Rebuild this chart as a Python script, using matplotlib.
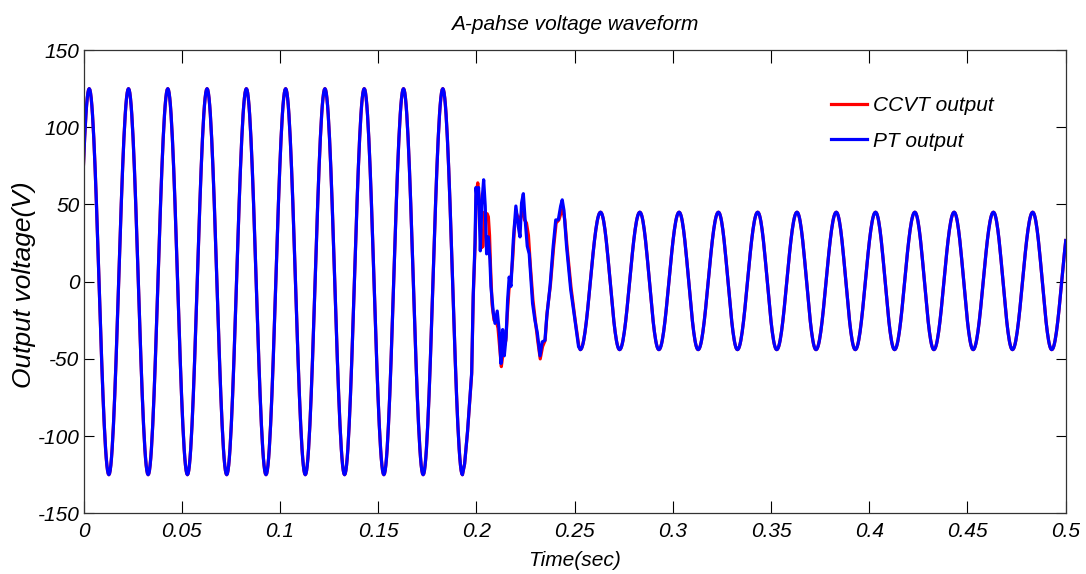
import numpy as np
import matplotlib
matplotlib.use("Agg")
import matplotlib.pyplot as plt

# --- Data ---
# Steady-state extrema before the fault (time in s, voltage in V).
# The first trough sits just left of t=0 so the trace enters the plot on a rising slope.
pre_ext_t = [-0.0071, 0.0029, 0.0129, 0.0229, 0.0329, 0.0429, 0.0529, 0.0629, 0.0729,
             0.0829, 0.0929, 0.1029, 0.1129, 0.1229, 0.1329, 0.1429, 0.1529, 0.1629,
             0.1729, 0.1829, 0.1929]
pre_ext_v = [-125, 125, -125, 125, -125, 125, -125, 125, -125, 125, -125,
             125, -125, 125, -125, 125, -125, 125, -125, 125, -125]

# Transient just after the fault, PT output (blue)
pt_trans_t = [0.1940, 0.1955, 0.1967, 0.1976, 0.1984, 0.1993, 0.1998, 0.2005, 0.2011,
              0.2020, 0.2028, 0.2037, 0.2045, 0.2052, 0.2061, 0.2069, 0.2074, 0.2086,
              0.2095, 0.2106, 0.2117, 0.2125, 0.2134, 0.2142, 0.2151, 0.2159, 0.2167,
              0.2176, 0.2188, 0.2201, 0.2213, 0.2222, 0.2230, 0.2239, 0.2247, 0.2259,
              0.2269, 0.2286, 0.2298, 0.2310, 0.2324, 0.2335, 0.2349, 0.2358, 0.2375,
              0.2391, 0.2404, 0.2417, 0.2429, 0.2437, 0.2446, 0.2459, 0.2480, 0.2502,
              0.2520]
pt_trans_v = [-118, -97, -75, -59, -8, 25, 61, 51, 61,
              20, 51, 66, 49, 18, 29, 14, -3, -20,
              -27, -19, -33, -53, -31, -48, -36, -12, 3,
              -3, 27, 49, 36, 29, 51, 57, 42, 23,
              18, -14, -25, -33, -48, -39, -38, -23, -3,
              23, 40, 40, 49, 53, 46, 23, -5, -25,
              -42]

# Transient just after the fault, CCVT output (red)
ccvt_trans_t = [0.1940, 0.1955, 0.1967, 0.1976, 0.1984, 0.1993, 0.1999, 0.2007, 0.2013,
                0.2020, 0.2027, 0.2034, 0.2040, 0.2047, 0.2055, 0.2061, 0.2067, 0.2072,
                0.2080, 0.2090, 0.2100, 0.2110, 0.2120, 0.2127, 0.2134, 0.2142, 0.2150,
                0.2158, 0.2166, 0.2175, 0.2185, 0.2195, 0.2205, 0.2215, 0.2225, 0.2235,
                0.2245, 0.2255, 0.2265, 0.2275, 0.2288, 0.2300, 0.2312, 0.2325, 0.2337,
                0.2350, 0.2360, 0.2377, 0.2393, 0.2406, 0.2420, 0.2432, 0.2440, 0.2450,
                0.2462, 0.2482, 0.2504, 0.2522]
ccvt_trans_v = [-118, -97, -76, -60, -10, 22, 56, 64, 56,
                35, 22, 23, 45, 40, 44, 42, 30, 10,
                -15, -25, -25, -30, -45, -55, -48, -42, -38,
                -20, -5, 0, 15, 38, 44, 40, 42, 45,
                40, 38, 30, 10, -12, -25, -38, -50, -42,
                -38, -20, -2, 22, 38, 40, 45, 47, 40,
                22, -4, -26, -42]

# Steady-state extrema after the fault (last peak lies just past t=0.5)
post_ext_t = [0.2529, 0.2632, 0.2729, 0.2832, 0.2929, 0.3032, 0.3129, 0.3232, 0.3329,
              0.3432, 0.3529, 0.3632, 0.3729, 0.3832, 0.3929, 0.4032, 0.4129, 0.4232,
              0.4329, 0.4432, 0.4529, 0.4632, 0.4729, 0.4832, 0.4929, 0.5031]
post_ext_v = [-44, 45, -44, 45, -44, 45, -44, 45, -44, 45, -44, 45, -44,
              45, -44, 45, -44, 45, -44, 45, -44, 45, -44, 45, -44, 45]

x_ticks = [0, 0.05, 0.1, 0.15, 0.2, 0.25, 0.3, 0.35, 0.4, 0.45, 0.5]
x_tick_labels = ['0', '0.05', '0.1', '0.15', '0.2', '0.25', '0.3', '0.35', '0.4', '0.45', '0.5']
y_ticks = [-150, -100, -50, 0, 50, 100, 150]
y_tick_labels = ['-150', '-100', '-50', '0', '50', '100', '150']


def half_cosine_path(ts, vs, n=30):
    """Joins successive extrema with half-cosine arcs (the sine shape of the trace)."""
    out_t, out_v = [], []
    for (t0, v0, t1, v1) in zip(ts[:-1], vs[:-1], ts[1:], vs[1:]):
        s = np.linspace(0, 1, n, endpoint=False)
        out_t.extend(t0 + (t1 - t0) * s)
        out_v.extend(v0 + (v1 - v0) * (1 - np.cos(np.pi * s)) / 2)
    out_t.append(ts[-1])
    out_v.append(vs[-1])
    return out_t, out_v


def build_trace(trans_t, trans_v):
    t1, v1 = half_cosine_path(pre_ext_t, pre_ext_v)
    t3, v3 = half_cosine_path(post_ext_t, post_ext_v)
    return (np.concatenate([t1, trans_t, t3]), np.concatenate([v1, trans_v, v3]))


ccvt_t, ccvt_v = build_trace(ccvt_trans_t, ccvt_trans_v)
pt_t, pt_v = build_trace(pt_trans_t, pt_trans_v)

# --- Plot ---
plt.rcParams['font.family'] = ['Liberation Sans', 'DejaVu Sans']
plt.rcParams['font.style'] = 'italic'

fig = plt.figure(figsize=(10.86, 5.74), dpi=100)
ax = fig.add_axes([0.0769, 0.1057, 0.9044, 0.8071])

ax.plot(ccvt_t, ccvt_v, color='#FF0000', linewidth=2.3, label='CCVT output')
ax.plot(pt_t, pt_v, color='#0000FF', linewidth=2.3, label='PT output')

ax.set_xlim(0, 0.5)
ax.set_ylim(-150, 150)
ax.set_xticks(x_ticks)
ax.set_xticklabels(x_tick_labels)
ax.set_yticks(y_ticks)
ax.set_yticklabels(y_tick_labels)
ax.tick_params(axis='both', direction='in', top=True, right=True,
               labelsize=15, width=0.8, colors='black')
ax.tick_params(axis='x', length=9, pad=6)
ax.tick_params(axis='y', length=7, pad=3)
for sp in ax.spines.values():
    sp.set_linewidth(0.9)
    sp.set_color('#333333')

ax.set_title('A-pahse voltage waveform', fontsize=15, pad=14.4)
ax.set_xlabel('Time(sec)', fontsize=15)
ax.xaxis.set_label_coords(0.5, -0.082)
ax.set_ylabel('Output voltage(V)', fontsize=19)
ax.yaxis.set_label_coords(-0.048, 0.493)

ax.legend(loc='upper left', bbox_to_anchor=(0.761, 0.9005), frameon=False,
          fontsize=15, handlelength=1.75, handletextpad=0.25, labelspacing=0.79,
          borderpad=0, borderaxespad=0)

fig.savefig('out.png', dpi=100)
